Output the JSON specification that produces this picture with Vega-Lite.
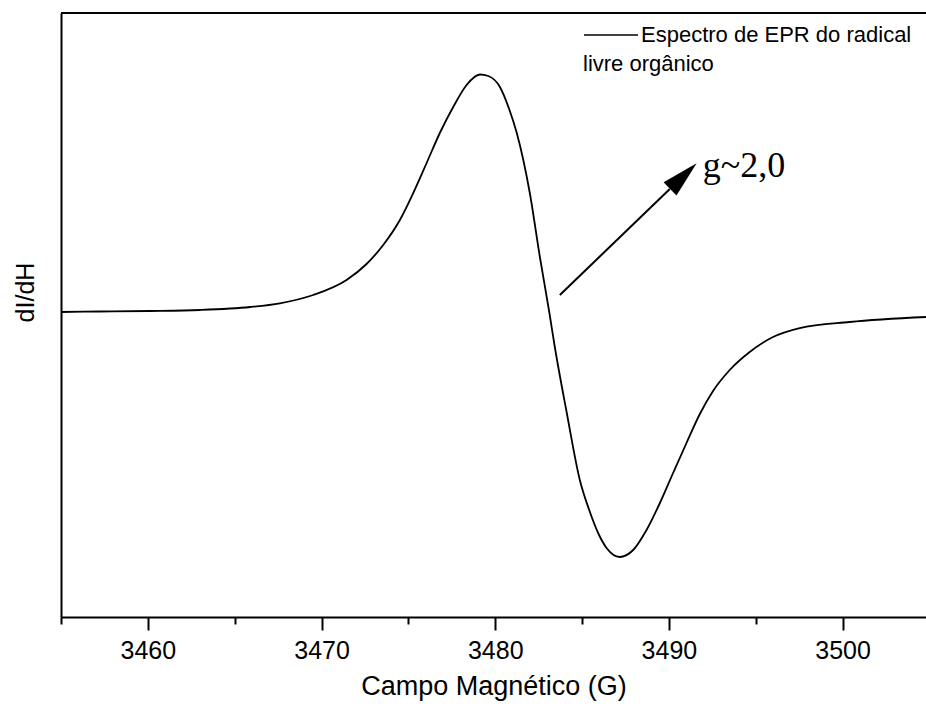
{
  "$schema": "https://vega.github.io/schema/vega-lite/v6.json",
  "width": 865,
  "height": 604,
  "autosize": {"type": "none"},
  "padding": {"left": 61, "top": 13, "right": 0, "bottom": 92},
  "background": "white",
  "config": {
    "view": {"stroke": null},
    "font": "Liberation Sans"
  },
  "data": {
    "values": [
      {"campo": 3455.0, "dIdH": 0},
      {"campo": 3457.2, "dIdH": 0.5},
      {"campo": 3460.1, "dIdH": 1},
      {"campo": 3463.0, "dIdH": 2},
      {"campo": 3465.9, "dIdH": 5},
      {"campo": 3467.6, "dIdH": 8.7},
      {"campo": 3469.52, "dIdH": 17},
      {"campo": 3471.44, "dIdH": 32},
      {"campo": 3472.59, "dIdH": 48},
      {"campo": 3473.55, "dIdH": 67},
      {"campo": 3474.51, "dIdH": 92},
      {"campo": 3475.28, "dIdH": 119},
      {"campo": 3476.05, "dIdH": 149},
      {"campo": 3476.81, "dIdH": 179},
      {"campo": 3477.58, "dIdH": 205},
      {"campo": 3478.35, "dIdH": 227},
      {"campo": 3479.12, "dIdH": 237.5},
      {"campo": 3479.6, "dIdH": 236},
      {"campo": 3480.27, "dIdH": 225},
      {"campo": 3480.8, "dIdH": 203},
      {"campo": 3481.24, "dIdH": 179},
      {"campo": 3481.99, "dIdH": 119},
      {"campo": 3482.57, "dIdH": 55},
      {"campo": 3483.11, "dIdH": 0},
      {"campo": 3483.43, "dIdH": -35},
      {"campo": 3484.12, "dIdH": -101},
      {"campo": 3484.87, "dIdH": -168},
      {"campo": 3485.45, "dIdH": -200},
      {"campo": 3485.95, "dIdH": -222},
      {"campo": 3486.41, "dIdH": -236},
      {"campo": 3487.17, "dIdH": -245},
      {"campo": 3487.94, "dIdH": -238},
      {"campo": 3488.71, "dIdH": -218},
      {"campo": 3489.48, "dIdH": -191},
      {"campo": 3490.24, "dIdH": -161},
      {"campo": 3491.01, "dIdH": -131},
      {"campo": 3491.78, "dIdH": -102},
      {"campo": 3492.54, "dIdH": -79},
      {"campo": 3493.5, "dIdH": -58},
      {"campo": 3494.65, "dIdH": -40},
      {"campo": 3495.99, "dIdH": -25},
      {"campo": 3497.53, "dIdH": -16},
      {"campo": 3500.4, "dIdH": -10},
      {"campo": 3504.8, "dIdH": -5}
    ]
  },
  "layer": [
    {
      "mark": {"type": "line", "interpolate": "monotone", "strokeWidth": 1.8},
      "encoding": {
        "x": {
          "field": "campo",
          "type": "quantitative",
          "scale": {"domain": [3455, 3504.8], "nice": false, "zero": false},
          "axis": {
            "title": "Campo Magnético (G)",
            "values": [3455, 3460, 3465, 3470, 3475, 3480, 3485, 3490, 3495, 3500],
            "format": "d",
            "labelExpr": "datum.value % 10 === 0 ? datum.label : ''",
            "tickSize": {"condition": {"test": "datum.value % 10 === 0", "value": 13}, "value": 7},
            "tickWidth": 2,
            "tickColor": "black",
            "domainColor": "black",
            "domainWidth": 2,
            "grid": false,
            "labelFontSize": 25,
            "labelColor": "black",
            "labelBaseline": "alphabetic",
            "labelPadding": 28,
            "labelFlush": false,
            "titleFontSize": 27,
            "titleFontWeight": "normal",
            "titleColor": "black",
            "titleBaseline": "alphabetic",
            "titleY": 77
          }
        },
        "y": {
          "field": "dIdH",
          "type": "quantitative",
          "scale": {"domain": [-305, 299], "nice": false, "zero": false},
          "axis": {
            "title": "dI/dH",
            "ticks": false,
            "labels": false,
            "grid": false,
            "domainColor": "black",
            "domainWidth": 2,
            "titleFontSize": 25,
            "titleFontWeight": "normal",
            "titleColor": "black",
            "titleBaseline": "alphabetic",
            "titleX": -28,
            "titleY": 279
          }
        },
        "color": {
          "datum": "Espectro de EPR do radical",
          "scale": {"range": ["black"]},
          "legend": {
            "title": "livre orgânico",
            "titleOrient": "bottom",
            "titleAnchor": "start",
            "titleFontSize": 22,
            "titleFontWeight": "normal",
            "titleColor": "black",
            "titlePadding": 8,
            "titleLimit": 0,
            "labelFontSize": 22,
            "labelColor": "black",
            "labelOffset": 2,
            "labelLimit": 0,
            "symbolType": "stroke",
            "symbolSize": 2916,
            "symbolStrokeWidth": 1.5,
            "symbolStrokeColor": "black",
            "orient": "none",
            "legendX": 522,
            "legendY": -6
          }
        }
      }
    },
    {
      "data": {"values": [{}]},
      "mark": {"type": "rule", "strokeWidth": 2, "color": "black"},
      "encoding": {"y": {"datum": 299}}
    },
    {
      "data": {"values": [{}]},
      "mark": {"type": "rule", "strokeWidth": 2, "color": "black"},
      "encoding": {
        "x": {"datum": 3483.72},
        "y": {"datum": 17},
        "x2": {"datum": 3490.05},
        "y2": {"datum": 123}
      }
    },
    {
      "data": {"values": [{}]},
      "mark": {
        "type": "point",
        "shape": "M0,-1L0.5,1L-0.5,1Z",
        "filled": true,
        "color": "black",
        "opacity": 1,
        "size": 1369,
        "angle": 46
      },
      "encoding": {
        "x": {"datum": 3490.83},
        "y": {"datum": 136}
      }
    },
    {
      "data": {"values": [{}]},
      "mark": {
        "type": "text",
        "text": "g~2,0",
        "font": "Liberation Serif",
        "fontSize": 36,
        "align": "left",
        "baseline": "alphabetic",
        "color": "black"
      },
      "encoding": {
        "x": {"datum": 3491.95},
        "y": {"datum": 135}
      }
    }
  ]
}
